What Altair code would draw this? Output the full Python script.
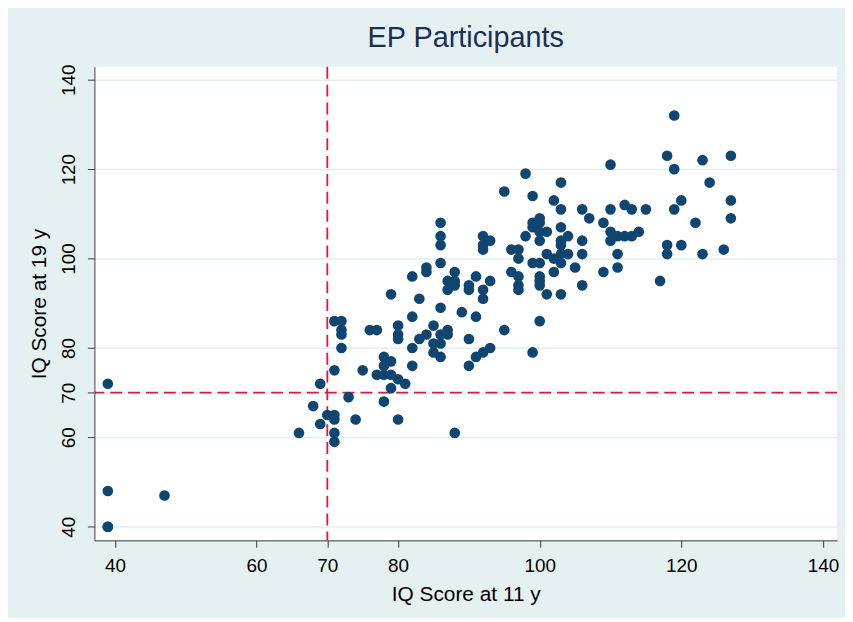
import altair as alt
import pandas as pd

# ---- data ----
iq11 = [39, 39, 39, 39, 47,
        66, 68, 69, 69, 70, 71, 71, 71, 71, 71, 71, 72, 72, 72, 72,
        73, 74, 75, 76, 77, 77, 78, 78, 78, 78, 79, 79, 79, 79,
        80, 80, 80, 80, 80, 81, 82, 82, 82, 82, 83, 83, 84, 84, 84,
        85, 85, 85, 86, 86, 86, 86, 86, 86, 86, 86,
        87, 87, 87, 87, 88, 88, 88, 88, 89,
        90, 90, 90, 90, 91, 91, 91, 92, 92, 92, 92, 92, 92, 93, 93, 93,
        95, 95, 96, 96, 97, 97, 97, 97, 97, 98, 98,
        99, 99, 99, 99, 99, 100, 100, 100, 100, 100, 100, 100, 100, 100,
        101, 101, 101, 102, 102, 102, 103, 103, 103, 103, 103, 103, 103, 103,
        104, 104, 105, 106, 106, 106, 106, 107, 109, 109,
        110, 110, 110, 110, 111, 111, 111, 112, 112, 113, 113, 114, 115,
        117, 118, 118, 118, 119, 119, 119, 120, 120, 122, 123, 123, 124,
        126, 127, 127, 127]
iq19 = [72, 48, 40, 40, 47,
        61, 67, 72, 63, 65, 65, 64, 61, 59, 75, 86, 86, 84, 83, 80,
        69, 64, 75, 84, 84, 74, 78, 76, 74, 68, 77, 74, 71, 92,
        73, 64, 85, 83, 82, 72, 80, 76, 87, 96, 91, 82, 83, 98, 97,
        85, 81, 79, 78, 81, 83, 89, 99, 103, 105, 108,
        84, 83, 93, 95, 97, 95, 94, 61, 88,
        82, 76, 94, 93, 78, 87, 96, 79, 91, 93, 102, 103, 105, 80, 95, 104,
        84, 115, 102, 97, 102, 100, 96, 94, 93, 119, 105,
        79, 114, 108, 107, 99, 86, 99, 96, 95, 94, 104, 106, 109, 108,
        92, 101, 106, 97, 100, 113, 117, 111, 107, 104, 103, 101, 99, 92,
        105, 101, 98, 111, 104, 101, 94, 109, 108, 97,
        121, 111, 106, 104, 105, 101, 98, 112, 105, 111, 105, 106, 111,
        95, 123, 103, 101, 132, 120, 111, 113, 103, 108, 122, 101, 117,
        102, 123, 113, 109]
x_ticks = [40, 60, 70, 80, 100, 120, 140]
y_ticks = [40, 60, 70, 80, 100, 120, 140]
ref_x = [70]
ref_y = [70]
chart_title = "EP Participants"
x_title = "IQ Score at 11 y"
y_title = "IQ Score at 19 y"

df = pd.DataFrame({"iq11": iq11, "iq19": iq19})
vline_df = pd.DataFrame({"iq11": ref_x})
hline_df = pd.DataFrame({"iq19": ref_y})

W, H = 748, 477
FONT = "Liberation Sans"
AXIS_COL = "#3a3a3a"

xscale = alt.Scale(domain=[37.1, 142.0], nice=False, zero=False)
yscale = alt.Scale(domain=[36.96, 142.9], nice=False, zero=False)

xaxis = alt.Axis(
    values=x_ticks, title=x_title, grid=False,
    domainColor=AXIS_COL, tickColor=AXIS_COL, tickSize=7,
    labelFont=FONT, labelFontSize=19, labelColor="black", labelPadding=24,
    labelBaseline="alphabetic", labelFlush=False,
    titleFont=FONT, titleFontSize=21, titleFontWeight="normal", titleColor="black",
    titleX=W / 2, titleY=61, titleAlign="center", titleBaseline="alphabetic",
)
yaxis = alt.Axis(
    values=y_ticks, title=y_title, grid=True, gridColor="#e2eef0", gridWidth=1.5,
    domainColor=AXIS_COL, tickColor=AXIS_COL, tickSize=7,
    labelFont=FONT, labelFontSize=19, labelColor="black", labelPadding=13,
    labelAngle=270, labelAlign="center", labelBaseline="alphabetic", labelFlush=False,
    titleFont=FONT, titleFontSize=21, titleFontWeight="normal", titleColor="black",
    titleAngle=270, titleX=-49, titleY=H / 2, titleAlign="center",
    titleBaseline="alphabetic",
)


def xenc():
    return alt.X("iq11:Q", scale=xscale, axis=xaxis)


def yenc():
    return alt.Y("iq19:Q", scale=yscale, axis=yaxis)


rule_style = dict(color="#dc1a3c", strokeWidth=1.8, strokeDash=[12, 6])

vline = alt.Chart(vline_df).mark_rule(**rule_style).encode(x=xenc())
hline = alt.Chart(hline_df).mark_rule(**rule_style).encode(y=yenc())
points = alt.Chart(df).mark_circle(size=115, color="#0f4571", opacity=1).encode(
    x=xenc(), y=yenc()
)

chart = (
    alt.layer(vline, hline, points)
    .properties(
        width=W,
        height=H,
        title=alt.TitleParams(
            chart_title, font=FONT, fontSize=29, fontWeight="normal",
            color="#1b2f57", anchor="middle", frame="group", offset=11,
        ),
        autosize=alt.AutoSizeParams(type="none"),
        padding={"left": 87, "top": 57, "right": 8, "bottom": 76},
        background="#e5f0f1",
    )
    .configure_view(fill="white", strokeWidth=0)
)

chart.save("out.html", embed_options={"renderer": "svg", "actions": False})
